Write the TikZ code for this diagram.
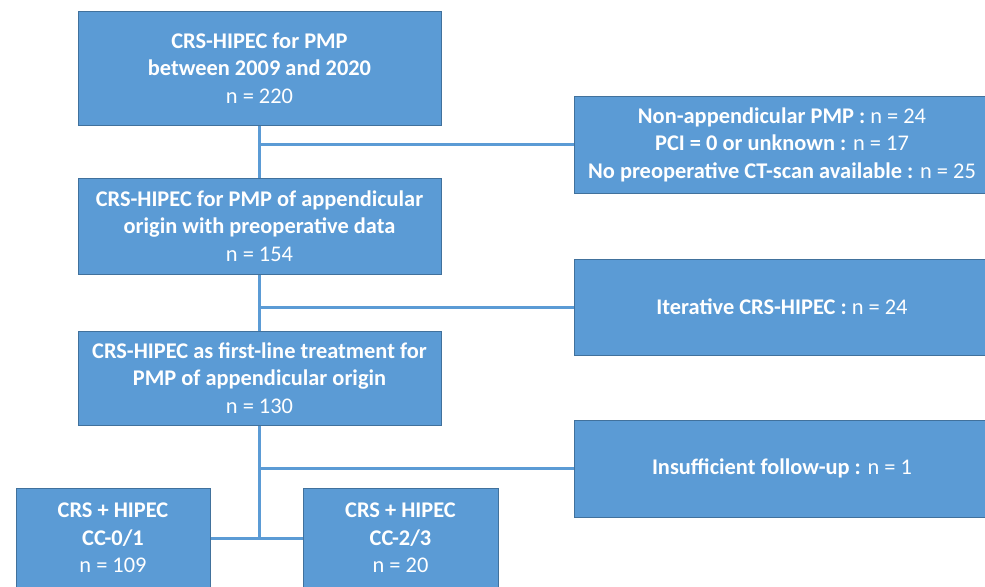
\documentclass[tikz,border=0pt]{standalone}
\usepackage{fontspec}
\setmainfont{Carlito}
\usepackage{xcolor}
\definecolor{boxblue}{HTML}{5B9BD5}
\definecolor{edgeblue}{HTML}{41719C}
\usetikzlibrary{calc,positioning}
\tikzset{
    flowbox/.style={rectangle, draw=edgeblue, line width=0.5pt, fill=boxblue, text=white,
        align=center, inner sep=0pt, font=\fontsize{11.2}{13.8}\selectfont},
    link/.style={draw=boxblue, line width=1.5pt}
}
\begin{document}
\begin{tikzpicture}[x=0.5pt, y=-0.5pt]
        \clip (0,0) rectangle (985,586);
        \fill[white] (0,0) rectangle (985,586);

        % Main column
        \node[flowbox, minimum width=181.5pt, minimum height=57pt] (start) at (259.5,68)
            {\textbf{CRS-HIPEC for PMP}\\\textbf{between 2009 and 2020}\\n = 220};
        \node[flowbox, minimum width=181.5pt, minimum height=48pt] (appendix) at (259.5,226)
            {\textbf{CRS-HIPEC for PMP of appendicular}\\\textbf{origin with preoperative data}\\n = 154};
        \node[flowbox, minimum width=181.5pt, minimum height=47pt] (firstline) at (259.5,378)
            {\textbf{CRS-HIPEC as first-line treatment for}\\\textbf{PMP of appendicular origin}\\n = 130};

        % Exclusions
        \node[flowbox, minimum width=208pt, minimum height=48.5pt] (excl1) at (782,144.5)
            {\textbf{Non-appendicular PMP :} n = 24\\\textbf{PCI = 0 or unknown :} n = 17\\\textbf{No preoperative CT-scan available :} n = 25};
        \node[flowbox, minimum width=208pt, minimum height=48pt] (excl2) at (782,307)
            {\textbf{Iterative CRS-HIPEC :} n = 24};
        \node[flowbox, minimum width=208pt, minimum height=48.5pt] (excl3) at (782,468.5)
            {\textbf{Insufficient follow-up :} n = 1};

        % Resection groups
        \node[flowbox, minimum width=97pt, minimum height=50pt] (cc01) at (113,538)
            {\textbf{CRS + HIPEC}\\\textbf{CC-0/1}\\n = 109};
        \node[flowbox, minimum width=97.5pt, minimum height=50pt] (cc23) at (400.5,538)
            {\textbf{CRS + HIPEC}\\\textbf{CC-2/3}\\n = 20};

        % Connections
        \draw[link] (start.south) -- (appendix.north);
        \draw[link] (start.south |- excl1.west) -- (excl1.west);
        \draw[link] (appendix.south) -- (firstline.north);
        \draw[link] (appendix.south |- excl2.west) -- (excl2.west);
        \draw[link] (firstline.south) -- (firstline.south |- cc01.east);
        \draw[link] (firstline.south |- excl3.west) -- (excl3.west);
        \draw[link] (cc01.east) -- (cc23.west);
    \end{tikzpicture}
\end{document}
